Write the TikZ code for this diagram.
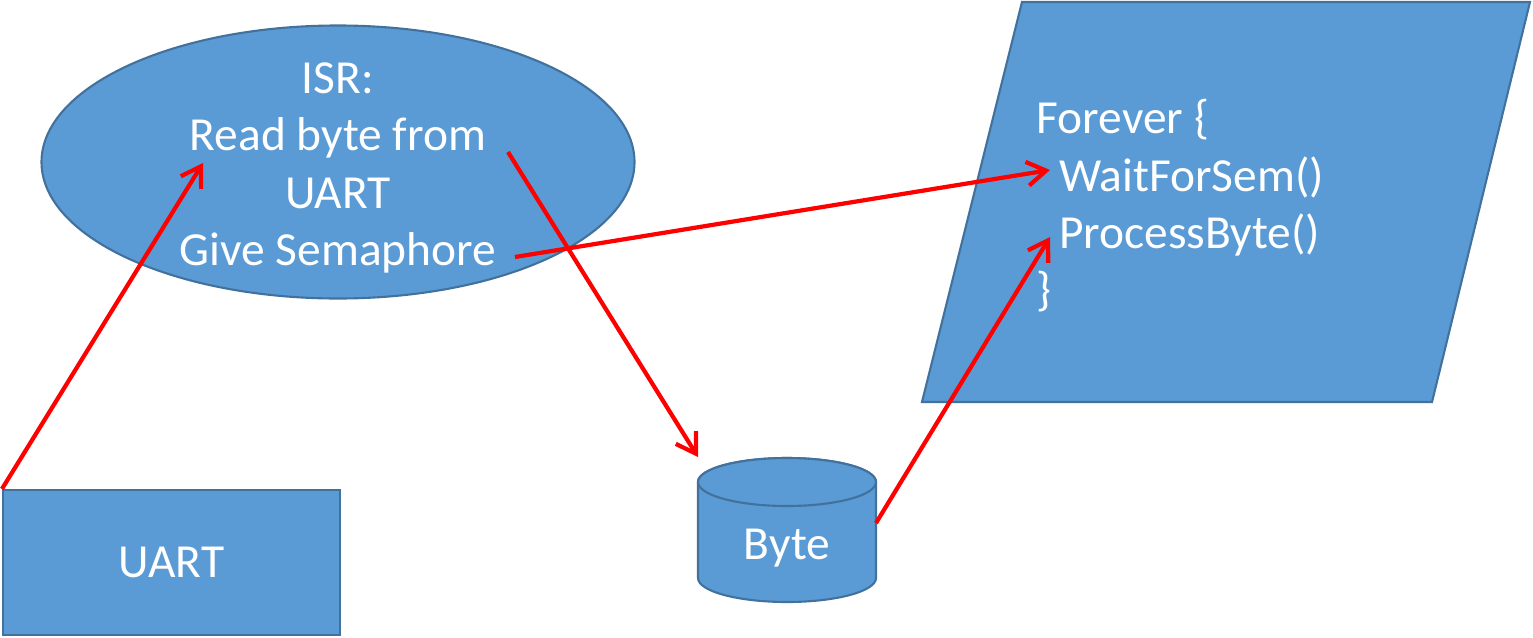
\documentclass[tikz,border=0pt]{standalone}
\usepackage{fontspec}
\setmainfont{Carlito}
\usetikzlibrary{shapes.geometric,arrows.meta}
\definecolor{boxblue}{HTML}{5B9BD5}
\definecolor{boxedge}{HTML}{41719C}
\tikzset{
  blob/.style={fill=boxblue,draw=boxedge,line width=0.6pt,text=white},
  flow/.style={-{Straight Barb[length=5.4pt,width=6.8pt]},line width=1.2pt,red},
}
\begin{document}
\begin{tikzpicture}[font=\fontsize{13.5}{16.3}\selectfont]
  \useasboundingbox (0,0) rectangle (15.33,6.37);
  % interrupt side
  \node[blob,rectangle,minimum width=3.37cm,minimum height=1.45cm] (uart) at (1.715,0.745) {UART};
  \node[blob,ellipse,minimum width=5.93cm,minimum height=2.73cm] (isr) at (3.38,4.75) {};
  \node[text=white,align=center,inner sep=0pt] (isrtext) at (3.38,4.69) {ISR:\\Read byte from\\UART\\Give Semaphore};
  % byte buffer (cylinder)
  \draw[blob] (6.98,1.55) -- (6.98,0.59) arc[start angle=180,end angle=360,x radius=0.89,y radius=0.24]
    -- (8.76,1.55) arc[start angle=0,end angle=180,x radius=0.89,y radius=0.24] -- cycle;
  \draw[blob] (7.87,1.55) ellipse (0.89 and 0.24);
  \node[text=white] (byte) at (7.87,0.89) {Byte};
  % task side
  \draw[blob] (10.22,6.35) -- (15.30,6.35) -- (14.32,2.35) -- (9.22,2.35) -- cycle;
  \node[text=white,align=left,inner sep=0pt,anchor=west] (task) at (10.36,4.31) {Forever \{\\\hspace*{0.47em}WaitForSem()\\\hspace*{0.47em}ProcessByte()\\\}};
  % arrows
  \coordinate (readin) at (2.03,4.74);
  \coordinate (readout) at (5.08,4.85);
  \coordinate (semout) at (5.15,3.80);
  \coordinate (bytein) at (6.98,1.80);
  \coordinate (byteout) at (8.76,1.14);
  \coordinate (semin) at (10.50,4.67);
  \coordinate (procin) at (10.50,4.00);
  \draw[flow] (uart.north west) -- (readin);
  \draw[flow] (readout) -- (bytein);
  \draw[flow] (semout) -- (semin);
  \draw[flow] (byteout) -- (procin);
\end{tikzpicture}
\end{document}
